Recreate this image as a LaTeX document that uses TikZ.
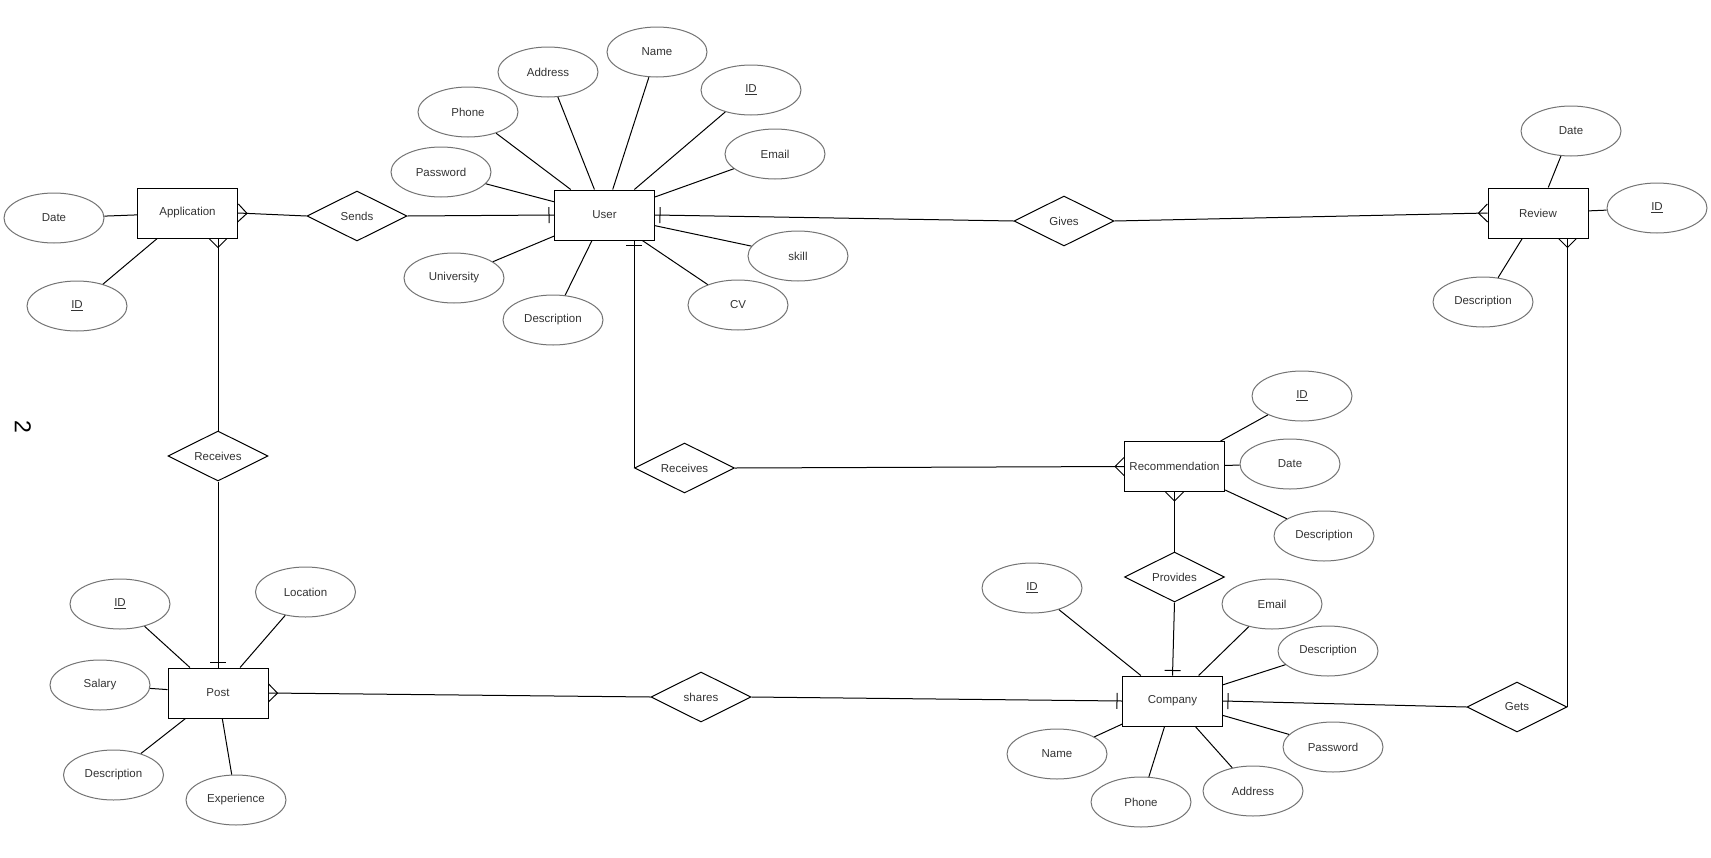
\documentclass[tikz,border=0pt]{standalone}
\usepackage{fontspec}
\setmainfont{Liberation Sans}
\usetikzlibrary{shapes.geometric,calc}
\newcommand\crowfoot[2]{%
  \coordinate (cfT) at ($(#1)!9pt!(#2)$);
  \draw[conn] ($(#1)!9pt!90:(#2)$) -- (cfT) -- ($(#1)!9pt!-90:(#2)$);
}
\newcommand\onebar[2]{%
  \coordinate (obQ) at ($(#1)!5pt!(#2)$);
  \draw[conn] ($(obQ)!8pt!90:(#2)$) -- ($(obQ)!8pt!-90:(#2)$);
}
\tikzset{
  base/.style={font=\fontsize{11.5}{13}\selectfont, text=black!80, inner sep=0pt},
  entity/.style={base, draw=black, line width=1pt, rectangle, minimum width=100pt, minimum height=50pt},
  rel/.style={base, draw=black, line width=1pt, diamond, aspect=2, minimum width=100pt, minimum height=50pt},
  attr/.style={base, draw=black!55, line width=1pt, ellipse, minimum width=100pt, minimum height=50pt},
  conn/.style={draw=black, line width=1pt},
}
\begin{document}
\begin{tikzpicture}[x=1pt,y=-1pt]
\useasboundingbox (0,0) rectangle (1711,857);
% entities
\node[entity] (App) at (187.5,213) {Application};
\node[entity] (User) at (604.5,215) {User};
\node[entity] (Review) at (1538,213) {Review};
\node[entity] (Post) at (218,693) {Post};
\node[entity] (Recom) at (1174.5,466.5) {Recommendation};
\node[entity] (Comp) at (1172.5,701) {Company};
% relationships
\node[rel] (Sends) at (357,216) {Sends};
\node[rel] (Gives) at (1064,221) {Gives};
\node[rel] (RecvA) at (218,456) {Receives};
\node[rel] (RecvB) at (684.5,468) {Receives};
\node[rel] (Prov) at (1174.5,577) {Provides};
\node[rel] (Shares) at (701,697) {shares};
\node[rel] (Gets) at (1517,707) {Gets};
% attributes
\node[attr] (aDate) at (54,218) {Date};
\node[attr] (aID) at (77,306) {\underline{ID}};
\node[attr] (uPhone) at (468,112) {Phone};
\node[attr] (uAddr) at (548,72) {Address};
\node[attr] (uName) at (657,52) {Name};
\node[attr] (uID) at (751,90) {\underline{ID}};
\node[attr] (uEmail) at (775,154) {Email};
\node[attr] (uPass) at (441,172) {Password};
\node[attr] (uUni) at (454,278) {University};
\node[attr] (uDesc) at (553,320) {Description};
\node[attr] (uCV) at (738,305) {CV};
\node[attr] (uSkill) at (798,256) {skill};
\node[attr] (rDate) at (1571,131) {Date};
\node[attr] (rID) at (1657,208) {\underline{ID}};
\node[attr] (rDesc) at (1483,302) {Description};
\node[attr] (mID) at (1302,396) {\underline{ID}};
\node[attr] (mDate) at (1290,464) {Date};
\node[attr] (mDesc) at (1324,536) {Description};
\node[attr] (pID) at (120,604) {\underline{ID}};
\node[attr] (pLoc) at (305.5,592) {Location};
\node[attr] (pSal) at (100,685) {Salary};
\node[attr] (pDesc) at (113.5,775) {Description};
\node[attr] (pExp) at (236,800) {Experience};
\node[attr] (cID) at (1032,588) {\underline{ID}};
\node[attr] (cEmail) at (1272,604) {Email};
\node[attr] (cDesc) at (1328,651) {Description};
\node[attr] (cPass) at (1333,747) {Password};
\node[attr] (cAddr) at (1253,791) {Address};
\node[attr] (cPhone) at (1141,802) {Phone};
\node[attr] (cName) at (1057,754) {Name};
\node[base, font=\fontsize{23}{25}\selectfont, text=black, rotate=-90] (two) at (23,427) {2};
% attribute links
\foreach \a in {aDate,aID} \draw[conn] (\a) -- (App);
\foreach \a in {uPhone,uAddr,uName,uID,uEmail,uPass,uUni,uDesc,uCV,uSkill} \draw[conn] (\a) -- (User);
\foreach \a in {rDate,rID,rDesc} \draw[conn] (\a) -- (Review);
\foreach \a in {mID,mDate,mDesc} \draw[conn] (\a) -- (Recom);
\foreach \a in {pID,pLoc,pSal,pDesc,pExp} \draw[conn] (\a) -- (Post);
\foreach \a in {cID,cEmail,cDesc,cPass,cAddr,cPhone,cName} \draw[conn] (\a) -- (Comp);
% relationship links
\draw[conn] (App.east) -- (Sends.west);
\crowfoot{App.east}{Sends.west}
\draw[conn] (Sends.east) -- (User.west);
\onebar{User.west}{Sends.east}
\draw[conn] (User.east) -- (Gives.west);
\onebar{User.east}{Gives.west}
\draw[conn] (Gives.east) -- (Review.west);
\crowfoot{Review.west}{Gives.east}
\coordinate (appB) at (RecvA.north |- App.south);
\draw[conn] (appB) -- (RecvA.north);
\crowfoot{appB}{RecvA.north}
\draw[conn] (RecvA.south) -- (Post.north);
\onebar{Post.north}{RecvA.south}
\coordinate (userB) at (RecvB.west |- User.south);
\draw[conn] (userB) -- (RecvB.west);
\onebar{userB}{RecvB.west}
\draw[conn] (RecvB.east) -- (Recom.west);
\crowfoot{Recom.west}{RecvB.east}
\draw[conn] (Recom.south) -- (Prov.north);
\crowfoot{Recom.south}{Prov.north}
\draw[conn] (Prov.south) -- (Comp.north);
\onebar{Comp.north}{Prov.south}
\draw[conn] (Post.east) -- (Shares.west);
\crowfoot{Post.east}{Shares.west}
\draw[conn] (Shares.east) -- (Comp.west);
\onebar{Comp.west}{Shares.east}
\draw[conn] (Comp.east) -- (Gets.west);
\onebar{Comp.east}{Gets.west}
\coordinate (revB) at (Gets.east |- Review.south);
\draw[conn] (Gets.east) -- (revB);
\crowfoot{revB}{Gets.east}
\end{tikzpicture}
\end{document}
